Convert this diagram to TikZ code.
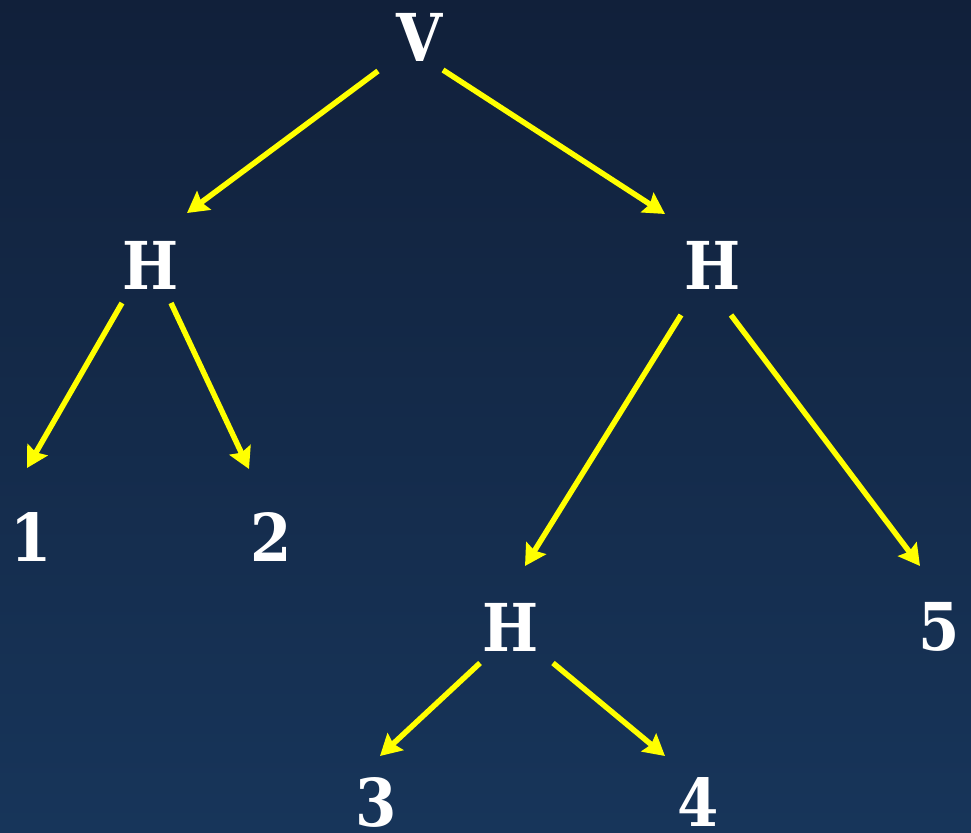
\documentclass[tikz,border=0pt]{standalone}
\usepackage{fontspec}
\setmainfont{DejaVu Serif Condensed}
\usetikzlibrary{arrows.meta}
\definecolor{bgtop}{RGB}{17,32,58}
\definecolor{bgbottom}{RGB}{23,53,90}
\definecolor{arrowyellow}{RGB}{255,255,0}
\tikzset{
  lbl/.style={text=white, font=\fontsize{66}{66}\selectfont\bfseries, inner sep=0pt, anchor=center},
  arr/.style={draw=arrowyellow, line width=5.5pt,
    -{Stealth[length=21pt, width=23pt, inset=3pt]}},
}
\begin{document}
\begin{tikzpicture}[x=1pt, y=-1pt]
  % background with vertical gradient
  \shade[top color=bgtop, bottom color=bgbottom] (0,0) rectangle (971,832);
  \useasboundingbox (0,0) rectangle (971,832);

  % tree labels
  \node[lbl] (V)  at (420,37)  {V};
  \node[lbl] (HL) at (151,265) {H};
  \node[lbl] (HR) at (713,265) {H};
  \node[lbl] (L1) at (31,537)  {1};
  \node[lbl] (L2) at (271,537) {2};
  \node[lbl] (HB) at (511,627) {H};
  \node[lbl] (L5) at (939,627) {5};
  \node[lbl] (L3) at (376,802) {3};
  \node[lbl] (L4) at (698,802) {4};

  % edges of the slicing tree
  \draw[arr] ([shift={(-42,34)}]V.center)  -- ([shift={(36,-52)}]HL.center);
  \draw[arr] ([shift={(23,33)}]V.center)   -- ([shift={(-48,-51)}]HR.center);
  \draw[arr] ([shift={(-29,38)}]HL.center) -- ([shift={(-4,-69)}]L1.center);
  \draw[arr] ([shift={(20,38)}]HL.center)  -- ([shift={(-22,-68)}]L2.center);
  \draw[arr] ([shift={(-32,50)}]HR.center) -- ([shift={(14,-61)}]HB.center);
  \draw[arr] ([shift={(18,50)}]HR.center)  -- ([shift={(-19,-61)}]L5.center);
  \draw[arr] ([shift={(-31,36)}]HB.center) -- ([shift={(4,-46)}]L3.center);
  \draw[arr] ([shift={(42,36)}]HB.center)  -- ([shift={(-33,-46)}]L4.center);
\end{tikzpicture}
\end{document}
